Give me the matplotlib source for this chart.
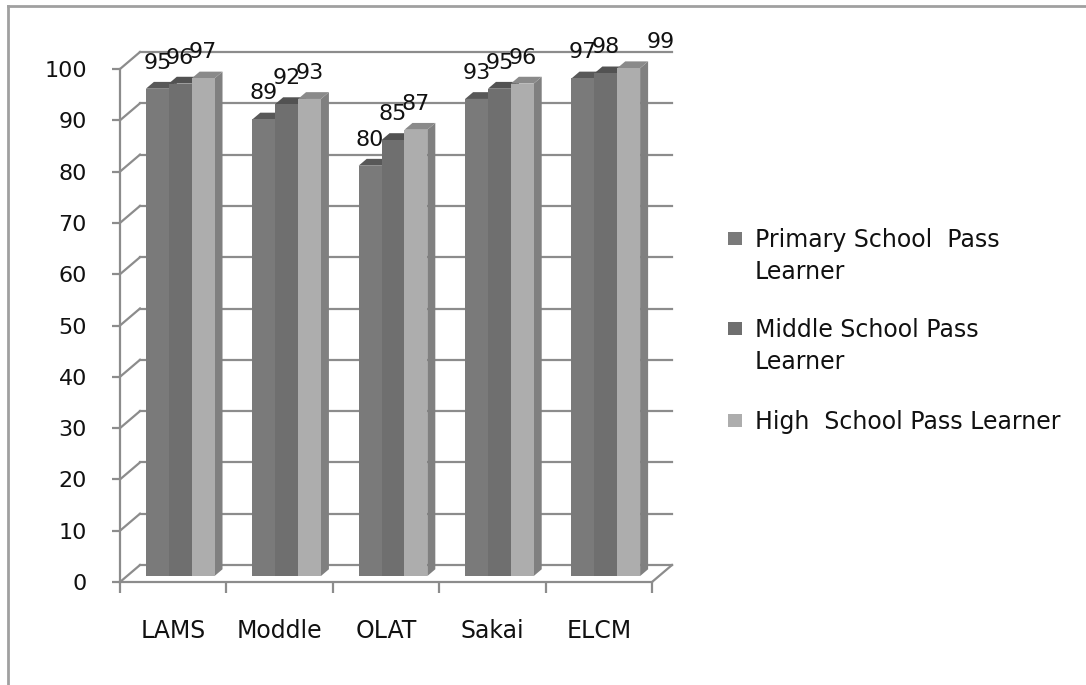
import matplotlib
matplotlib.use('Agg')
import matplotlib.pyplot as plt
from matplotlib.patches import Polygon, Rectangle
from matplotlib.lines import Line2D
from matplotlib.transforms import IdentityTransform, ScaledTranslation

# ----- data -----
categories = ['LAMS', 'Moddle', 'OLAT', 'Sakai', 'ELCM']
series_names = ['Primary School  Pass\nLearner',
                'Middle School Pass\nLearner',
                'High  School Pass Learner']
primary = [95, 89, 80, 93, 97]
middle = [96, 92, 85, 95, 98]
high = [97, 93, 87, 96, 99]
yticks = list(range(0, 101, 10))

series = [primary, middle, high]

# ----- style -----
front_colors = ['#7a7a7a', '#6f6f6f', '#adadad']
side_colors = ['#5e5e5e', '#565656', '#808080']
top_colors = ['#585858', '#525252', '#8a8a8a']
grid_color = '#8c8c8c'
plt.rcParams['font.family'] = ['DejaVu Sans']

W, H = 1086, 685
DPI = 100
fig = plt.figure(figsize=(W / DPI, H / DPI), dpi=DPI)
ax = fig.add_axes([120 / W, (H - 582) / H, (652 - 120) / W, (582 - 69) / H])
ax.set_xlim(0, len(categories))
ax.set_ylim(0, 100)
ax.patch.set_visible(False)

DX, DY = 20, 17        # depth of the walls in pixels
F0, F1 = 0.35, 0.75    # bar front / back depth fraction
GROUP = 0.645          # width of the bar cluster in category units
bw = GROUP / len(series)
px2pt = 72 / DPI


def proj(x, y, d):
    px, py = ax.transData.transform((x, y))
    return (px + d * DX, py + d * DY)


def wall_line(p, q, **kw):
    ax.add_line(Line2D([p[0], q[0]], [p[1], q[1]], transform=IdentityTransform(),
                       clip_on=False, color=grid_color, lw=1.6, zorder=1, **kw))


# back wall gridlines + left wall diagonals + floor
n = len(categories)
for v in yticks:
    wall_line(proj(0, v, 0), proj(0, v, 1))
    wall_line(proj(0, v, 1), proj(n, v, 1))
wall_line(proj(n, 0, 0), proj(n, 0, 1))

# bars
shift = ax.transData + ScaledTranslation(F0 * DX / DPI, F0 * DY / DPI, fig.dpi_scale_trans)
label_nudge = {(4, 2): 32}
for j, vals in enumerate(series):
    lefts = [i + 0.5 - GROUP / 2 + j * bw for i in range(n)]
    ax.bar(lefts, vals, width=bw, align='edge', color=front_colors[j],
           transform=shift, clip_on=False, zorder=10 + 3 * j + 2, linewidth=0)
    for i, (xl, v) in enumerate(zip(lefts, vals)):
        xr = xl + bw
        side = [proj(xr, 0, F0), proj(xr, v, F0), proj(xr, v, F1), proj(xr, 0, F1)]
        top = [proj(xl, v, F0), proj(xr, v, F0), proj(xr, v, F1), proj(xl, v, F1)]
        ax.add_patch(Polygon(side, closed=True, transform=IdentityTransform(),
                             facecolor=side_colors[j], edgecolor='none',
                             clip_on=False, zorder=10 + 3 * j))
        ax.add_patch(Polygon(top, closed=True, transform=IdentityTransform(),
                             facecolor=top_colors[j], edgecolor='none',
                             clip_on=False, zorder=10 + 3 * j + 1))
        nx = label_nudge.get((i, j), 0)
        ax.annotate(str(v), xy=(xl + bw / 2, v), textcoords='offset points',
                    xytext=((F0 * DX + nx) * px2pt, (F0 * DY + 26) * px2pt),
                    ha='center', va='center', fontsize=16, color='#111111',
                    zorder=30, annotation_clip=False)

# axes / ticks
for s in ['top', 'right']:
    ax.spines[s].set_visible(False)
for s in ['left', 'bottom']:
    ax.spines[s].set_color(grid_color)
    ax.spines[s].set_linewidth(1.6)
    ax.spines[s].set_zorder(2)

ax.set_yticks(yticks)
ax.tick_params(axis='y', length=8 * px2pt, width=1.6, color=grid_color,
               pad=25 * px2pt, labelsize=16, labelcolor='#111111')
ax.set_xticks([i + 0.5 for i in range(n)])
ax.set_xticklabels(categories)
ax.set_xticks(range(n + 1), minor=True)
ax.tick_params(axis='x', which='major', length=0, pad=37 * px2pt,
               labelsize=17, labelcolor='#111111')
ax.tick_params(axis='x', which='minor', length=11 * px2pt, width=1.6,
               color=grid_color)

# legend
legend_y = [228, 318, 410]
for name, col, y in zip(series_names, front_colors, legend_y):
    fig.add_artist(Rectangle((728 / W, 1 - (y + 17) / H), 14 / W, 13 / H,
                             transform=fig.transFigure, facecolor=col,
                             edgecolor='none'))
    fig.text(755 / W, 1 - y / H, name, ha='left', va='top', fontsize=17,
             color='#111111', linespacing=1.4)

# outer frame
fig.add_artist(Line2D([8 / W, 8 / W], [0, 1 - 6 / H], transform=fig.transFigure,
                      color='#a0a0a0', lw=2))
fig.add_artist(Line2D([8 / W, 1], [1 - 6 / H, 1 - 6 / H], transform=fig.transFigure,
                      color='#a0a0a0', lw=2))

fig.savefig('out.png', dpi=DPI)
